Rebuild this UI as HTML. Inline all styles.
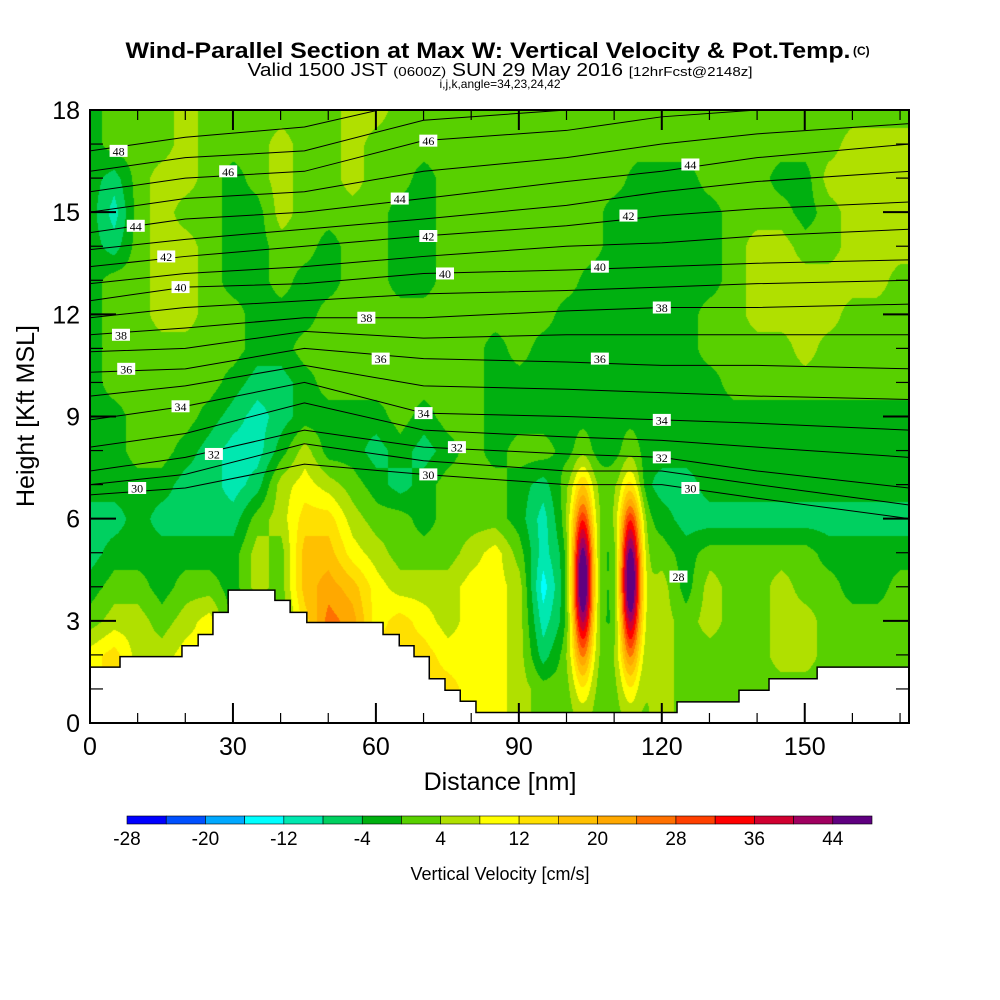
<!DOCTYPE html>
<html><head><meta charset="utf-8">
<style>
html,body{margin:0;padding:0;background:#fff;}
#wrap{position:relative;width:1000px;height:1000px;overflow:hidden;font-family:"Liberation Sans",sans-serif;}
canvas{position:absolute;left:90px;top:110px;}
svg{position:absolute;left:0;top:0;}
</style></head>
<body>
<div id="wrap">
<canvas id="cv" width="819" height="613"></canvas>
<svg id="sv" width="1000" height="1000">
<text x="488" y="58" text-anchor="middle" font-size="22" font-weight="bold" textLength="725" lengthAdjust="spacingAndGlyphs">Wind-Parallel Section at Max W: Vertical Velocity &amp; Pot.Temp.</text>
<text x="853" y="55" font-size="12" font-weight="bold">(C)</text>
<text x="500" y="76" text-anchor="middle" font-size="18" textLength="505" lengthAdjust="spacingAndGlyphs">Valid 1500 JST <tspan font-size="13">(0600Z)</tspan> SUN 29 May 2016 <tspan font-size="13">[12hrFcst@2148z]</tspan></text>
<text x="500" y="88" text-anchor="middle" font-size="12">i,j,k,angle=34,23,24,42</text>
<text x="500" y="790" text-anchor="middle" font-size="25">Distance [nm]</text>
<text transform="translate(34,416) rotate(-90)" text-anchor="middle" font-size="25">Height [Kft MSL]</text>
<text x="500" y="880" text-anchor="middle" font-size="18">Vertical Velocity [cm/s]</text>
<g id="contours"></g><g id="terrain"></g><g id="labels"></g><g id="axes"></g><g id="cbar"></g>
</svg>
</div>
<script>
// ---- data ----
const gridX=[0,5,10,15,20,25,30,35,40,45,50,55,60,65,70,75,80,85,90,95,100,105,110,115,120,125,130,135,140,145,150,155,160,165,170];
const gridZ=[18,17,16,15,14,13,12,11,10,9,8,7,6,5,4,3,2,1,0];
const w18=[-2,2,2,2,6,2,2,2,2,2,2,6,6,2,2,2,2,2,2,2,2,2,2,2,2,2,2,2,2,2,2,2,2,2,2];
const w17=[-2,2,2,2,6,2,2,2,6,2,2,6,2,2,2,2,2,2,2,2,2,2,2,2,2,2,2,2,2,2,2,2,6,6,6];
const w16=[-2,-6,2,6,6,2,-2,2,6,2,2,6,2,2,-2,2,2,2,2,2,2,2,2,-2,-2,-2,2,2,2,-2,-2,6,6,6,6];
const w15=[-2,-10,2,6,2,2,-2,-2,6,2,2,2,2,-2,-2,2,2,2,2,2,2,2,-2,-2,-2,-2,-2,2,2,2,-2,2,6,6,6];
const w14=[-2,-6,2,6,6,2,-2,-2,2,2,-2,2,2,-2,-2,2,2,2,2,2,2,2,-2,-2,-2,-2,-2,2,6,6,2,2,6,6,6];
const w13=[-2,2,2,6,6,2,-2,-2,2,-2,-2,2,2,-2,-2,2,2,2,2,2,2,-2,-2,-2,-2,-2,-2,2,6,6,6,6,6,6,2];
const w12=[-2,2,2,6,6,2,2,-2,-2,-2,2,2,2,2,2,2,2,2,2,2,-2,-2,-2,-2,-2,-2,2,2,6,6,6,6,2,2,2];
const w11=[-2,2,2,2,2,2,2,-2,-2,2,2,2,2,2,2,2,2,-2,2,-2,-2,-2,-2,-2,-2,-2,2,2,2,2,6,2,2,2,2];
const w10=[-2,2,2,2,2,2,-2,-6,-6,-2,2,2,2,2,2,2,2,-2,-2,-2,-2,-2,-2,-2,-2,-2,-2,2,2,2,2,2,2,2,2];
const w9=[-2,-2,2,2,2,-2,-6,-10,-6,-2,-2,-2,-2,2,-2,2,2,-2,-2,-2,-2,-2,-2,-2,-2,-2,-2,-2,-2,-2,-2,-2,-2,-2,-2];
const w8=[-2,-2,2,2,-2,-6,-10,-10,-2,6,-2,-2,-6,-2,-6,-2,2,-2,2,2,-2,-2,-2,-2,-2,-2,-2,-2,-2,-2,-2,-2,-2,-2,-2];
const w7=[-2,-2,-2,-2,-6,-6,-10,-6,6,10,6,2,-2,-6,-2,2,2,2,-2,-6,2,2,2,-2,-6,-6,-2,-2,-2,-2,-2,-2,-2,-2,-2];
const w6=[-6,-6,-2,-6,-6,-6,-6,2,6,14,14,6,2,2,-2,2,2,2,-2,-10,2,2,2,2,-2,-6,-6,-6,-6,-6,-6,-6,-6,-6,-6];
const w5=[-6,-2,-2,-2,-2,-2,-2,6,2,18,18,10,6,2,2,2,6,10,2,-10,-2,2,-2,2,2,-2,2,2,2,2,2,-2,-2,-2,-2];
const w4=[-2,2,2,-2,2,2,-2,6,2,18,22,18,10,6,6,6,10,10,6,-14,-2,2,-2,2,6,-2,6,2,2,6,2,2,-2,-2,2];
const w3=[2,6,6,2,6,10,-2,-2,0,14,26,22,10,14,10,6,10,10,6,-10,-2,2,-2,2,6,2,6,2,2,6,6,2,2,2,2];
const w2=[10,14,6,6,10,10,0,0,0,0,0,0,14,14,14,10,10,10,6,-6,2,2,2,2,6,2,2,2,2,6,6,2,2,2,2];
const w1=[10,14,10,6,10,10,0,0,0,0,0,0,0,0,14,14,10,10,6,2,2,2,2,2,6,2,2,2,2,2,2,2,2,2,2];
const w0=[10,14,10,6,10,10,0,0,0,0,0,0,0,0,14,14,10,10,6,2,2,2,2,2,6,2,2,2,2,2,2,2,2,2,2];
const updraftX=[103.3,113.3];
const updraftZ=[4.2,4.2];
const updraftPeak=[50,50];
const cbLevels=[-28,-24,-20,-16,-12,-8,-4,0,4,8,12,16,20,24,28,32,36,40,44,48];
const cbTickLabels=[-28,-20,-12,-4,4,12,20,28,36,44];
const thetaX=[0,20,45,70,100,120,140,172];
const th30=[6.7,6.9,7.6,7.3,7.0,7.0,6.6,6.0];
const th31=[7.0,7.3,8.2,7.7,7.4,7.4,7.0,6.4];
const th32=[7.4,7.8,8.6,8.1,7.9,7.8,7.4,6.9];
const th33=[8.1,8.5,9.4,8.6,8.4,8.3,8.1,7.8];
const th34=[8.9,9.3,10.0,9.1,9.0,8.9,8.8,8.6];
const th35=[9.6,9.9,10.5,9.9,9.8,9.7,9.6,9.5];
const th36=[10.3,10.4,11.0,10.7,10.6,10.5,10.5,10.4];
const th37=[10.9,11.0,11.5,11.3,11.4,11.4,11.4,11.4];
const th38=[11.4,11.6,11.9,11.9,12.1,12.2,12.2,12.3];
const th39=[11.9,12.2,12.4,12.6,12.7,12.8,12.9,13.0];
const th40=[12.4,12.8,12.9,13.2,13.3,13.4,13.5,13.6];
const th41=[12.9,13.2,13.4,13.7,14.0,14.1,14.3,14.5];
const th42=[13.4,13.7,14.0,14.3,14.6,14.9,15.1,15.3];
const th43=[13.9,14.2,14.5,14.8,15.2,15.6,15.9,16.2];
const th44=[14.4,14.8,15.0,15.4,15.9,16.2,16.6,17.0];
const th45=[15.0,15.4,15.6,16.2,16.6,17.0,17.3,17.6];
const th46=[15.6,16.0,16.2,17.1,17.4,17.8,18.0,18.2];
const th47=[16.2,16.6,16.8,17.7,18.0,18.4,18.6,18.8];
const th48=[16.8,17.2,17.5,18.3,18.6,19,19,19];
const labelText=[30,30,30,32,32,32,34,34,34,36,36,36,38,38,38,40,40,40,42,42,42,44,44,44,46,46,48,28];
const labelX=[9.9,71,126,26,77,120,19,70,120,7.6,61,107,6.5,58,120,19,74.5,107,16,71,113,9.6,65,126,29,71,6,123.5];
const labelZ=[6.9,7.3,6.9,7.9,8.1,7.8,9.3,9.1,8.9,10.4,10.7,10.7,11.4,11.9,12.2,12.8,13.2,13.4,13.7,14.3,14.9,14.6,15.4,16.4,16.2,17.1,16.8,4.3];
const terrX=[0,6.3,19.3,22.7,25.8,29,38.8,42,45.5,61.5,64.9,68,71.2,74.5,77.7,81,123.2,136.2,142.5,152.6];
const terrH=[1.64,1.95,2.27,2.6,3.25,3.9,3.6,3.25,2.95,2.6,2.27,1.95,1.3,0.96,0.64,0.31,0.62,0.96,1.3,1.64];
const xTicks=[0,30,60,90,120,150];
const yTicks=[0,3,6,9,12,15,18];

// ---- scales ----
const PL=90,PT=110,PW=819,PH=613,XMAX=PW/4.765,ZMAX=18;
const sx=v=>PL+v/XMAX*PW, sz=v=>PT+PH-v/ZMAX*PH;
const colors=["#0000ff","#0050ff","#00a8ff","#00ffff","#00e8b0","#00d060","#00b010","#58d000","#b0e000","#ffff00","#ffe000","#ffc000","#ffa800","#ff7000","#ff4000","#ff0000","#d00030","#a00060","#600080"];
const NS="http://www.w3.org/2000/svg";
function mk(tag,attrs,parent){const e=document.createElementNS(NS,tag);for(const k in attrs)e.setAttribute(k,attrs[k]);parent.appendChild(e);return e;}

// ---- field ----
const rows=[w18,w17,w16,w15,w14,w13,w12,w11,w10,w9,w8,w7,w6,w5,w4,w3,w2,w1,w0];
function field(x,z){
  let fx=x/5; if(fx<0)fx=0; if(fx>gridX.length-1)fx=gridX.length-1;
  let fr=(ZMAX-z); if(fr<0)fr=0; if(fr>gridZ.length-1)fr=gridZ.length-1;
  const i0=Math.min(Math.floor(fx),gridX.length-2), j0=Math.min(Math.floor(fr),gridZ.length-2);
  const tx=fx-i0, ty=fr-j0;
  const a=rows[j0][i0],b=rows[j0][i0+1],c=rows[j0+1][i0],d=rows[j0+1][i0+1];
  let v=(a*(1-tx)+b*tx)*(1-ty)+(c*(1-tx)+d*tx)*ty;
  for(let k=0;k<updraftX.length;k++){
    const dx=(x-updraftX[k])/1.6, dz=(z-updraftZ[k])/1.75;
    v+=updraftPeak[k]*Math.exp(-0.5*(dx*dx+dz*dz));
  }
  return v;
}
const cv=document.getElementById('cv'),ctx=cv.getContext('2d');
const img=ctx.createImageData(PW,PH);
const rgb=colors.map(c=>[parseInt(c.substr(1,2),16),parseInt(c.substr(3,2),16),parseInt(c.substr(5,2),16)]);
for(let py=0;py<PH;py++){const z=(PH-py)/PH*ZMAX;for(let px=0;px<PW;px++){
  const x=px/PW*XMAX; const v=field(x,z);
  let bi=Math.floor((v-cbLevels[0])/4); if(bi<0)bi=0; if(bi>18)bi=18;
  const o=(py*PW+px)*4, c=rgb[bi]; img.data[o]=c[0];img.data[o+1]=c[1];img.data[o+2]=c[2];img.data[o+3]=255;}}
ctx.putImageData(img,0,0);

const sv=document.getElementById('sv');
mk('clipPath',{id:'pc'},sv).appendChild(document.createElementNS(NS,'rect'));
sv.querySelector('#pc rect').setAttribute('x',PL);sv.querySelector('#pc rect').setAttribute('y',PT);
sv.querySelector('#pc rect').setAttribute('width',PW);sv.querySelector('#pc rect').setAttribute('height',PH);

// ---- theta contours ----
const gC=document.getElementById('contours'); gC.setAttribute('clip-path','url(#pc)');
const thetas=[th30,th31,th32,th33,th34,th35,th36,th37,th38,th39,th40,th41,th42,th43,th44,th45,th46,th47,th48];
thetas.forEach((arr,i)=>{
  const p=mk('polyline',{points:arr.map((z,k)=>sx(thetaX[k])+','+sz(z)).join(' '),fill:'none',stroke:'#000','stroke-width':1},gC);
  
  
});

// ---- terrain ----
const gT=document.getElementById('terrain');
let pts=[sx(0)+','+sz(0)];
terrX.forEach((x,k)=>{const x2=k<terrX.length-1?terrX[k+1]:XMAX;pts.push(sx(x)+','+sz(terrH[k]));pts.push(sx(x2)+','+sz(terrH[k]));});
pts.push(sx(XMAX)+','+sz(0));
const tp=mk('polygon',{points:pts.join(' '),fill:'#fff',stroke:'#000','stroke-width':1.5},gT);



// ---- contour labels ----
const gL=document.getElementById('labels');
labelText.forEach((t,k)=>{
  const cx=sx(labelX[k]),cy=sz(labelZ[k]);
  const r=mk('rect',{x:cx-9,y:cy-6,width:18,height:12,fill:'#fff'},gL);
  
  
  const tx=mk('text',{x:cx,y:cy+4.5,'text-anchor':'middle','font-size':12,'font-family':'Liberation Serif'},gL);
  tx.textContent=t;
  
  
});

// ---- axes ----
const gA=document.getElementById('axes');
const fr=mk('rect',{x:PL,y:PT,width:PW,height:PH,fill:'none',stroke:'#000','stroke-width':2},gA);


for(let z=0;z<=18;z++){const y=sz(z),L=(z%3==0)?26:13;
  mk('line',{x1:PL,x2:PL+L,y1:y,y2:y,stroke:'#000','stroke-width':z%3==0?2:1.2},gA);
  mk('line',{x1:PL+PW-L,x2:PL+PW,y1:y,y2:y,stroke:'#000','stroke-width':z%3==0?2:1.2},gA);}
for(let x=0;x<=170;x+=10){const X=sx(x),L=(x%30==0)?20:10;
  mk('line',{x1:X,x2:X,y1:PT+PH,y2:PT+PH-L,stroke:'#000','stroke-width':x%30==0?2:1.2},gA);
  mk('line',{x1:X,x2:X,y1:PT,y2:PT+L,stroke:'#000','stroke-width':x%30==0?2:1.2},gA);}
yTicks.forEach(v=>{const t=mk('text',{x:80,y:sz(v)+9,'text-anchor':'end','font-size':25},gA);t.textContent=v;
  
  });
xTicks.forEach(v=>{const t=mk('text',{x:sx(v),y:755,'text-anchor':'middle','font-size':25},gA);t.textContent=v;
  
  });

// ---- colorbar ----
const gB=document.getElementById('cbar');
const cbL=127,cbW=745,bw=cbW/19;
colors.forEach((c,k)=>{const r=mk('rect',{x:cbL+k*bw,y:816,width:bw,height:8,fill:c,stroke:'#000','stroke-width':0.6},gB);
  
  });
cbTickLabels.forEach(v=>{const t=mk('text',{x:cbL+(v-cbLevels[0])/4*bw,y:845,'text-anchor':'middle','font-size':19},gB);t.textContent=v;
  
  });
</script>
</body></html>
